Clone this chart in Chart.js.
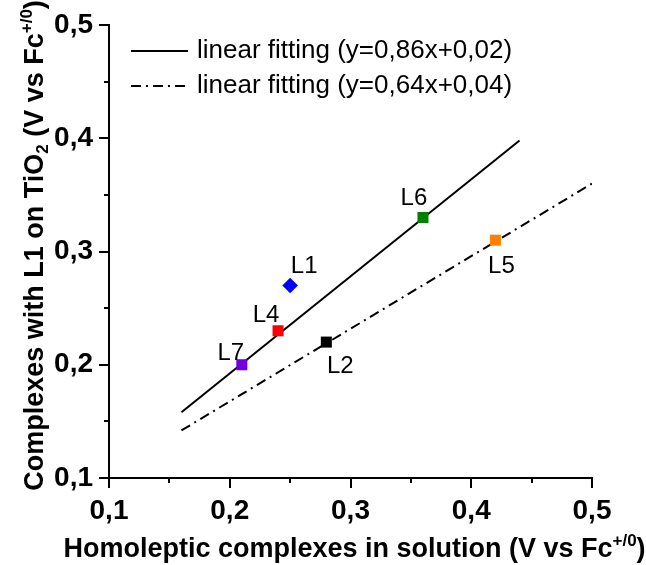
<!DOCTYPE html>
<html>
<head>
<meta charset="utf-8">
<script src="https://cdn.jsdelivr.net/npm/chart.js@4.4.0/dist/chart.umd.min.js"></script>
<style>
  html, body { margin: 0; padding: 0; background: #fff; }
  canvas { display: block; }
</style>
</head>
<body>
<canvas id="fitChart" width="646" height="565"></canvas>
<script>
// Redox potentials (V vs Fc+/0): homoleptic complexes in solution vs. on TiO2 with L1
const complexNames = ['L1', 'L2', 'L4', 'L5', 'L6', 'L7'];
const solutionPotentials = [0.25, 0.28, 0.24, 0.42, 0.36, 0.21];
const tio2Potentials = [0.27, 0.22, 0.23, 0.31, 0.33, 0.20];
const complexColors = ['#0000ff', '#000000', '#ff0000', '#ff8000', '#008000', '#7000e0'];
const complexMarkers = ['rectRot', 'rect', 'rect', 'rect', 'rect', 'rect'];

// Linear fits, start and end points
const fitLabels = ['linear fitting (y=0,86x+0,02)', 'linear fitting (y=0,64x+0,04)'];
const fitX = [[0.16, 0.44], [0.16, 0.50]];
const fitY = [[0.158, 0.398], [0.142, 0.360]];

// Major ticks and their labels (decimal comma)
const majorTicks = [0.1, 0.2, 0.3, 0.4, 0.5];
const majorTickLabels = ['0,1', '0,2', '0,3', '0,4', '0,5'];

const FONT = "'Liberation Sans', Arial, sans-serif";

function majorIndex(v) {
    return majorTicks.findIndex(t => Math.abs(t - v) < 1e-6);
}

// where each name sits relative to its marker
const nameOffsets = {
    L1: [14, -19], L2: [14, 24], L4: [-12, -15],
    L5: [6, 26], L6: [-9, -19], L7: [-11, -11]
};

// short outward ticks halfway between the labelled ones
const minorTicksPlugin = {
    id: 'minorTicks',
    afterDraw(chart) {
        const ctx = chart.ctx;
        const xs = chart.scales.x, ys = chart.scales.y;
        ctx.save();
        ctx.strokeStyle = '#000';
        ctx.lineWidth = 2;
        ctx.beginPath();
        xs.ticks.forEach(t => {
            if (majorIndex(t.value) >= 0) return;
            const px = Math.round(xs.getPixelForValue(t.value));
            ctx.moveTo(px, xs.top);
            ctx.lineTo(px, xs.top + 5);
        });
        ys.ticks.forEach(t => {
            if (majorIndex(t.value) >= 0) return;
            const py = Math.round(ys.getPixelForValue(t.value));
            ctx.moveTo(ys.right, py);
            ctx.lineTo(ys.right - 5, py);
        });
        ctx.stroke();
        ctx.restore();
    }
};

// complex names next to the markers
const pointNamesPlugin = {
    id: 'pointNames',
    afterDatasetsDraw(chart) {
        const ctx = chart.ctx;
        const meta = chart.getDatasetMeta(0);
        ctx.save();
        ctx.font = '24px ' + FONT;
        ctx.fillStyle = '#000';
        ctx.textAlign = 'center';
        ctx.textBaseline = 'middle';
        meta.data.forEach((el, i) => {
            const name = complexNames[i];
            const off = nameOffsets[name];
            ctx.fillText(name, el.x + off[0], el.y + off[1]);
        });
        ctx.restore();
    }
};

// legend for the two fit lines, inside the plot
const fitLegendPlugin = {
    id: 'fitLegend',
    afterDraw(chart) {
        const ctx = chart.ctx;
        const area = chart.chartArea;
        const x0 = area.left + 22, x1 = area.left + 79;
        ctx.save();
        ctx.font = '26px ' + FONT;
        ctx.fillStyle = '#000';
        ctx.textAlign = 'left';
        ctx.textBaseline = 'middle';
        [1, 2].forEach((dsIndex, row) => {
            const ds = chart.data.datasets[dsIndex];
            const y = area.top + 26 + row * 35;
            ctx.strokeStyle = ds.borderColor;
            ctx.lineWidth = ds.borderWidth;
            ctx.setLineDash(ds.borderDash || []);
            ctx.beginPath();
            ctx.moveTo(x0, y);
            ctx.lineTo(x1, y);
            ctx.stroke();
            ctx.setLineDash([]);
            ctx.fillText(ds.label, x1 + 9, y);
        });
        ctx.restore();
    }
};

// draw text pieces with super/subscripts, centred on x
function drawRich(ctx, parts, x, y, size) {
    const small = Math.round(size * 0.62);
    let total = 0;
    parts.forEach(p => {
        ctx.font = 'bold ' + (p[1] ? small : size) + 'px ' + FONT;
        total += ctx.measureText(p[0]).width;
    });
    let cx = x - total / 2;
    parts.forEach(p => {
        ctx.font = 'bold ' + (p[1] ? small : size) + 'px ' + FONT;
        let dy = 0;
        if (p[1] === 'sup') dy = -size * 0.4;
        if (p[1] === 'sub') dy = size * 0.2;
        ctx.fillText(p[0], cx, y + dy);
        cx += ctx.measureText(p[0]).width;
    });
}

const axisTitlesPlugin = {
    id: 'axisTitles',
    afterDraw(chart) {
        const ctx = chart.ctx;
        const area = chart.chartArea;
        ctx.save();
        ctx.fillStyle = '#000';
        ctx.textAlign = 'left';
        ctx.textBaseline = 'alphabetic';
        drawRich(ctx, [
            ['Homoleptic complexes in solution (V vs Fc'], ['+/0', 'sup'], [')']
        ], (area.left + area.right) / 2 + 4, 557, 27);

        ctx.translate(43, (area.top + area.bottom) / 2 - 6);
        ctx.rotate(-Math.PI / 2);
        drawRich(ctx, [
            ['Complexes with L1 on TiO'], ['2', 'sub'], [' (V vs Fc'], ['+/0', 'sup'], [')']
        ], 0, 0, 27);
        ctx.restore();
    }
};

const axisCommon = {
    type: 'linear',
    min: 0.1,
    max: 0.5,
    border: { display: true, color: '#000', width: 2 },
    grid: {
        drawOnChartArea: false,
        drawTicks: true,
        tickLength: 10,
        lineWidth: 2,
        color: c => (c.tick && majorIndex(c.tick.value) >= 0) ? '#000' : 'rgba(0,0,0,0)'
    }
};

function tickCallback(value) {
    const i = majorIndex(value);
    return i >= 0 ? majorTickLabels[i] : '';
}

const ctx = document.getElementById('fitChart').getContext('2d');

const fitChart = new Chart(ctx, {
    type: 'scatter',
    data: {
        datasets: [
            {
                label: 'complexes',
                data: complexNames.map((n, i) => ({ x: solutionPotentials[i], y: tio2Potentials[i] })),
                backgroundColor: complexColors,
                borderColor: complexColors,
                pointStyle: complexMarkers,
                pointRadius: 7.8,
                pointBorderWidth: 0,
                order: 0
            },
            {
                type: 'line',
                label: fitLabels[0],
                data: fitX[0].map((x, i) => ({ x: x, y: fitY[0][i] })),
                borderColor: '#000',
                borderWidth: 2,
                pointRadius: 0,
                fill: false,
                order: 1
            },
            {
                type: 'line',
                label: fitLabels[1],
                data: fitX[1].map((x, i) => ({ x: x, y: fitY[1][i] })),
                borderColor: '#000',
                borderWidth: 2,
                borderDash: [10, 5, 2, 5],
                pointRadius: 0,
                fill: false,
                order: 2
            }
        ]
    },
    options: {
        responsive: false,
        animation: false,
        layout: { padding: { top: 25, right: 54, left: 0, bottom: 0 } },
        scales: {
            x: Object.assign({}, axisCommon, {
                position: 'bottom',
                afterFit: s => { s.height = 87; },
                ticks: {
                    stepSize: 0.05,
                    autoSkip: false,
                    maxRotation: 0,
                    padding: 6,
                    color: '#000',
                    font: { family: FONT, size: 28, weight: 'bold' },
                    callback: tickCallback
                }
            }),
            y: Object.assign({}, axisCommon, {
                position: 'left',
                afterFit: s => { s.width = 109; },
                ticks: {
                    stepSize: 0.05,
                    autoSkip: false,
                    padding: 6,
                    color: '#000',
                    font: { family: FONT, size: 28, weight: 'bold' },
                    callback: tickCallback
                }
            })
        },
        plugins: {
            legend: { display: false },
            tooltip: { enabled: false }
        }
    },
    plugins: [minorTicksPlugin, pointNamesPlugin, fitLegendPlugin, axisTitlesPlugin]
});
</script>
</body>
</html>
